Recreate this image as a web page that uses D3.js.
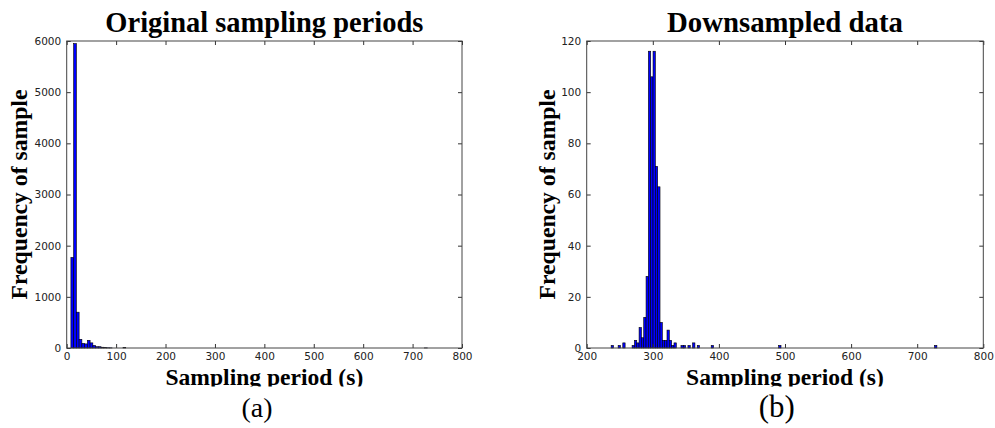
<!DOCTYPE html>
<html>
<head>
<meta charset="utf-8">
<script src="https://cdn.jsdelivr.net/npm/d3@7"></script>
<style>
  body { margin: 0; background: #fff; }
</style>
</head>
<body>
<svg id="fig" width="995" height="428"></svg>
<script>
// histogram (a): original sampling periods, equal-width bins
const binStartA = 8.5
const binWidthA = 5.55
const binIndexA = [0, 1, 2, 3, 4, 5, 6, 7, 8, 9, 10, 11, 12, 13, 14, 19, 129]
const countsA = [1770, 5950, 700, 170, 90, 80, 150, 100, 50, 25, 25, 15, 8, 5, 3, 8, 2]

// histogram (b): downsampled data
const binStartB = 237
const binWidthB = 3.52
const binIndexB = [0, 3, 5, 9, 10, 11, 12, 13, 14, 15, 16, 17, 18, 19, 20, 21, 22, 23, 24, 25, 26, 27, 30, 31, 33, 35, 37, 43, 72, 139]
const countsB = [1, 1, 2, 1, 3, 2, 8, 4, 12, 28, 116, 106, 116, 71, 63, 10, 3, 3, 7, 3, 1, 2, 1, 1, 1, 2, 1, 1, 1, 1]

const xTicksA = [0, 100, 200, 300, 400, 500, 600, 700, 800]
const yTicksA = [0, 1000, 2000, 3000, 4000, 5000, 6000]
const xTicksB = [200, 300, 400, 500, 600, 700, 800]
const yTicksB = [0, 20, 40, 60, 80, 100, 120]

const titles = ['Original sampling periods', 'Downsampled data']
const captions = ['(a)', '(b)']
const xLabel = 'Sampling period (s)'
const yLabel = 'Frequency of sample'

const svg = d3.select('#fig')
const plotTop = 41, plotBottom = 348
const serif = '"Liberation Serif", "DejaVu Serif", serif'

svg.append('defs').append('clipPath')
    .attr('id', 'labelClip')
  .append('rect')
    .attr('x', 0).attr('y', 0).attr('width', 995).attr('height', 386.5)

// shrink/grow a text node so it spans the given width
function fitText(sel, target) {
    let w = sel.node().getComputedTextLength()
    let fs = parseFloat(sel.attr('font-size'))
    sel.attr('font-size', fs * target / w)
}

const panels = [
    {
        left: 66.7, right: 462,
        xDomain: [0, 800], yDomain: [0, 6000],
        xTicks: xTicksA, yTicks: yTicksA,
        binStart: binStartA, binWidth: binWidthA, bins: binIndexA, counts: countsA,
        title: titles[0], titleWidth: 318,
        caption: captions[0], captionX: 257, captionWidth: 31,
        yLabelX: 26.7
    },
    {
        left: 586.7, right: 983.3,
        xDomain: [200, 800], yDomain: [0, 120],
        xTicks: xTicksB, yTicks: yTicksB,
        binStart: binStartB, binWidth: binWidthB, bins: binIndexB, counts: countsB,
        title: titles[1], titleWidth: 236,
        caption: captions[1], captionX: 776.7, captionWidth: 36,
        yLabelX: 555
    }
]

panels.forEach(p => {
    let x = d3.scaleLinear().domain(p.xDomain).range([p.left, p.right])
    let y = d3.scaleLinear().domain(p.yDomain).range([plotBottom, plotTop])
    let cx = (p.left + p.right) / 2

    let g = svg.append('g')

    // bars
    g.selectAll('rect.bar')
        .data(p.bins.map((b, i) => ({ x0: p.binStart + b * p.binWidth, x1: p.binStart + (b + 1) * p.binWidth, n: p.counts[i] })))
        .join('rect')
            .attr('class', 'bar')
            .attr('x', d => x(d.x0))
            .attr('width', d => x(d.x1) - x(d.x0))
            .attr('y', d => y(d.n))
            .attr('height', d => y(0) - y(d.n))
            .attr('fill', '#0000ff')
            .attr('stroke', '#000')
            .attr('stroke-width', 0.6)

    // axes, ticks pointing inward on all four sides
    let styleAxis = (a, labels) => {
        a.select('.domain').remove()
        a.selectAll('.tick line').attr('stroke', '#333')
        a.selectAll('.tick text')
            .attr('fill', '#222')
            .attr('font-family', '"DejaVu Sans", sans-serif')
            .attr('font-size', 10.5)
        if (!labels) a.selectAll('.tick text').remove()
    }

    g.append('g')
        .attr('transform', `translate(0,${plotBottom})`)
        .call(d3.axisBottom(x).tickValues(p.xTicks).tickSize(-4).tickPadding(5).tickFormat(d3.format('d')))
        .call(a => styleAxis(a, true))
    g.append('g')
        .attr('transform', `translate(0,${plotTop})`)
        .call(d3.axisTop(x).tickValues(p.xTicks).tickSize(-4))
        .call(a => styleAxis(a, false))
    g.append('g')
        .attr('transform', `translate(${p.left},0)`)
        .call(d3.axisLeft(y).tickValues(p.yTicks).tickSize(-4).tickPadding(5.5).tickFormat(d3.format('d')))
        .call(a => styleAxis(a, true))
    g.append('g')
        .attr('transform', `translate(${p.right},0)`)
        .call(d3.axisRight(y).tickValues(p.yTicks).tickSize(-4))
        .call(a => styleAxis(a, false))

    // frame
    g.append('rect')
        .attr('x', p.left).attr('y', plotTop)
        .attr('width', p.right - p.left).attr('height', plotBottom - plotTop)
        .attr('fill', 'none')
        .attr('stroke', '#444')
        .attr('stroke-width', 1)

    // title
    let t = g.append('text')
        .attr('x', cx).attr('y', 31.5)
        .attr('text-anchor', 'middle')
        .attr('font-family', serif)
        .attr('font-weight', 'bold')
        .attr('font-size', 26)
        .text(p.title)
    fitText(t, p.titleWidth)

    // x label (bottom edge clipped like the source figure)
    let xl = g.append('text')
        .attr('x', cx).attr('y', 385)
        .attr('text-anchor', 'middle')
        .attr('font-family', serif)
        .attr('font-weight', 'bold')
        .attr('font-size', 23)
        .attr('clip-path', 'url(#labelClip)')
        .text(xLabel)
    fitText(xl, 198)

    // y label
    let yl = g.append('text')
        .attr('transform', `translate(${p.yLabelX},${(plotTop + plotBottom) / 2}) rotate(-90)`)
        .attr('text-anchor', 'middle')
        .attr('font-family', serif)
        .attr('font-weight', 'bold')
        .attr('font-size', 23)
        .text(yLabel)
    fitText(yl, 210)

    // caption
    let c = g.append('text')
        .attr('x', p.captionX).attr('y', 417)
        .attr('text-anchor', 'middle')
        .attr('font-family', serif)
        .attr('font-size', 26)
        .text(p.caption)
    fitText(c, p.captionWidth)
})
</script>
</body>
</html>
